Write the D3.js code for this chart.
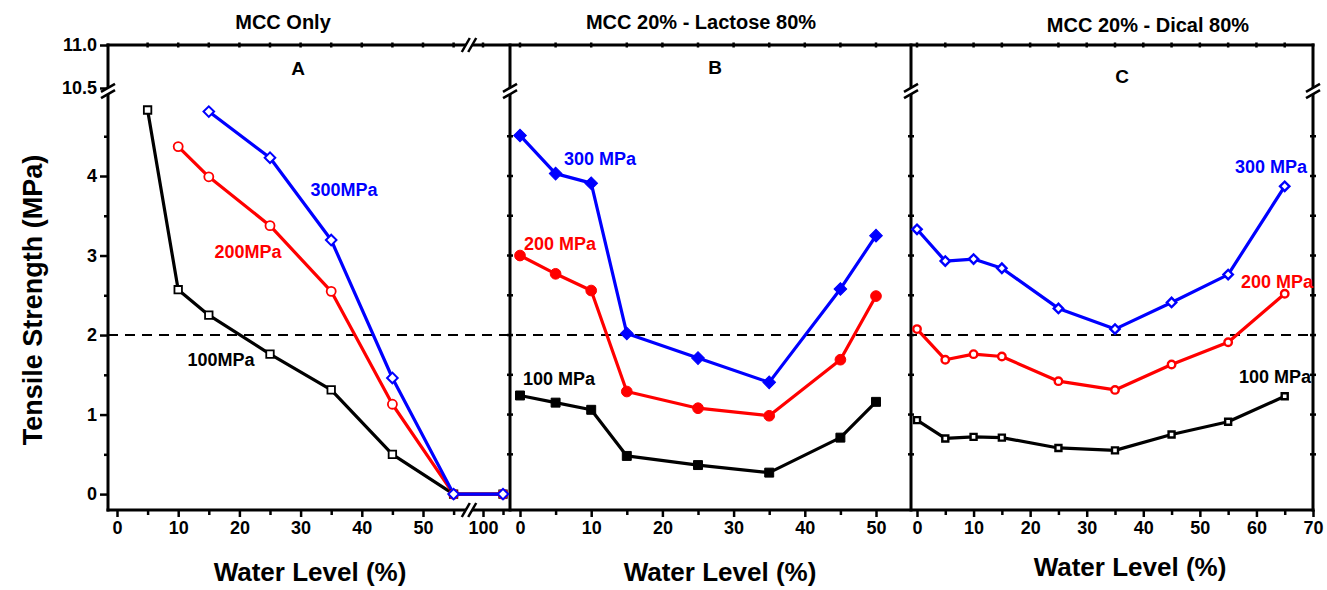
<!DOCTYPE html>
<html>
<head>
<meta charset="utf-8">
<script src="https://cdn.jsdelivr.net/npm/d3@7"></script>
<style>
  body { margin: 0; background: #fff; }
  text { font-family: "Liberation Sans", Arial, sans-serif; font-weight: bold; }
</style>
</head>
<body>
<div id="chart"></div>
<script>
// values
var waterA100 = [5, 10, 15, 25, 35, 45, 55, 105];
var tsA100 = [4.83, 2.57, 2.25, 1.76, 1.31, 0.50, 0, 0];
var waterA200 = [10, 15, 25, 35, 45, 55, 105];
var tsA200 = [4.37, 3.99, 3.375, 2.55, 1.13, 0, 0];
var waterA300 = [15, 25, 35, 45, 55, 105];
var tsA300 = [4.81, 4.23, 3.195, 1.46, 0, 0];

var waterB = [0, 5, 10, 15, 25, 35, 45, 50];
var tsB100 = [1.24, 1.15, 1.06, 0.48, 0.365, 0.27, 0.71, 1.16];
var tsB200 = [3.00, 2.77, 2.56, 1.29, 1.08, 0.985, 1.69, 2.49];
var tsB300 = [4.51, 4.03, 3.91, 2.02, 1.71, 1.405, 2.58, 3.25];

var waterC = [0, 5, 10, 15, 25, 35, 45, 55, 65];
var tsC100 = [0.93, 0.70, 0.72, 0.71, 0.58, 0.55, 0.75, 0.91, 1.23];
var tsC200 = [2.075, 1.69, 1.76, 1.73, 1.42, 1.31, 1.63, 1.91, 2.52];
var tsC300 = [3.33, 2.93, 2.955, 2.84, 2.335, 2.075, 2.41, 2.76, 3.87];

var titles = ["MCC Only", "MCC 20% - Lactose 80%", "MCC 20% - Dical 80%"];
var letters = ["A", "B", "C"];
var yTicksLow = [0, 1, 2, 3, 4];
var yTicksHigh = [10.5, 11.0];
var xTicksA = [0, 10, 20, 30, 40, 50];
var xTicksAHigh = [100];
var xTicksB = [0, 10, 20, 30, 40, 50];
var xTicksC = [0, 10, 20, 30, 40, 50, 60, 70];
var threshold = 2;

var width = 1327, height = 590;
var leftX = 108, divAB = 510, divBC = 911, rightX = 1313, topY = 45, bottomY = 510;

var svg = d3.select('#chart').append('svg')
  .attr('width', width)
  .attr('height', height);

var yLow = d3.scaleLinear().domain([-0.2, 5.05]).range([bottomY, 92.5]);
var yHigh = d3.scaleLinear().domain([10.5, 11]).range([88, topY]);

var xA = d3.scaleLinear().domain([0, 55]).range([117, 453.6]);
var xAHigh = d3.scaleLinear().domain([100, 105]).range([483, 503]);
var xB = d3.scaleLinear().domain([0, 50]).range([520, 876]);
var xC = d3.scaleLinear().domain([0, 70]).range([917, 1313]);

function xAny(v) { return v > 60 ? xAHigh(v) : xA(v); }

// threshold line
svg.append('line')
  .attr('x1', leftX).attr('x2', rightX)
  .attr('y1', yLow(threshold)).attr('y2', yLow(threshold))
  .attr('stroke', '#000').attr('stroke-width', 2)
  .attr('stroke-dasharray', '10,7');

// x axes
function xAxis(scale, ticks, minor) {
  var g = svg.append('g').attr('transform', 'translate(0,' + bottomY + ')');
  g.call(d3.axisBottom(scale).tickValues(minor).tickSize(5).tickFormat('').tickSizeOuter(0));
  g.select('.domain').remove();
  var g2 = svg.append('g').attr('transform', 'translate(0,' + bottomY + ')');
  g2.call(d3.axisBottom(scale).tickValues(ticks).tickSize(7).tickPadding(4)
    .tickFormat(d3.format('d')).tickSizeOuter(0));
  g2.select('.domain').remove();
}
xAxis(xA, xTicksA, [5, 15, 25, 35, 45, 55]);
xAxis(xAHigh, xTicksAHigh, [105]);
xAxis(xB, xTicksB, [5, 15, 25, 35, 45]);
xAxis(xC, xTicksC, [5, 15, 25, 35, 45, 55, 65]);

// left y axis
var gy = svg.append('g').attr('transform', 'translate(' + leftX + ',0)');
gy.call(d3.axisLeft(yLow).tickValues([0.5, 1.5, 2.5, 3.5, 4.5]).tickSize(4).tickFormat(''));
gy.select('.domain').remove();
var gy2 = svg.append('g').attr('transform', 'translate(' + leftX + ',0)');
gy2.call(d3.axisLeft(yLow).tickValues(yTicksLow).tickSize(8).tickPadding(3).tickFormat(d3.format('d')));
gy2.select('.domain').remove();
var gy3 = svg.append('g').attr('transform', 'translate(' + leftX + ',0)');
gy3.call(d3.axisLeft(yHigh).tickValues(yTicksHigh).tickSize(8).tickPadding(3).tickFormat(d3.format('.1f')));
gy3.select('.domain').remove();
svg.selectAll('.tick text').attr('font-size', 18).attr('font-weight', 'bold')
  .attr('font-family', '"Liberation Sans", Arial, sans-serif').attr('fill', '#000');
svg.selectAll('.tick line').attr('stroke-width', 2.5);

// small ticks on dividers, right edge and top border
var halfSteps = [0.5, 1, 1.5, 2, 2.5, 3, 3.5, 4, 4.5];
[divAB, divBC, rightX].forEach(function(x) {
  svg.selectAll(null).data(halfSteps).enter().append('line')
    .attr('x1', x - 3).attr('x2', x + 3)
    .attr('y1', function(d) { return yLow(d); }).attr('y2', function(d) { return yLow(d); })
    .attr('stroke', '#000').attr('stroke-width', 2.5);
});
var topTicks = [];
[5, 10, 15, 20, 25, 30, 35, 40, 45, 50, 55].forEach(function(v) { topTicks.push(xA(v)); });
[0, 5, 10, 15, 20, 25, 30, 35, 40, 45, 50].forEach(function(v) { topTicks.push(xB(v)); });
[0, 5, 10, 15, 20, 25, 30, 35, 40, 45, 50, 55, 60, 65].forEach(function(v) { topTicks.push(xC(v)); });
topTicks.push(xAHigh(100));
svg.selectAll(null).data(topTicks).enter().append('line')
  .attr('x1', function(d) { return d; }).attr('x2', function(d) { return d; })
  .attr('y1', topY - 2.5).attr('y2', topY + 2.5)
  .attr('stroke', '#000').attr('stroke-width', 2.5);

// frame
var frame = svg.append('g').attr('stroke', '#000').attr('stroke-width', 3).attr('fill', 'none');
frame.append('line').attr('x1', leftX - 1.5).attr('x2', rightX + 1.5).attr('y1', topY).attr('y2', topY);
frame.append('line').attr('x1', leftX - 1.5).attr('x2', rightX + 1.5).attr('y1', bottomY).attr('y2', bottomY);
[leftX, divAB, divBC, rightX].forEach(function(x) {
  frame.append('line').attr('x1', x).attr('x2', x).attr('y1', topY - 1.5).attr('y2', bottomY + 1.5);
});

// axis breaks
function vBreak(x, y) {
  svg.append('rect').attr('x', x - 3).attr('y', y - 3).attr('width', 6).attr('height', 6).attr('fill', '#fff');
  [-3.2, 3.2].forEach(function(o) {
    svg.append('line')
      .attr('x1', x - 7).attr('y1', y + o + 4).attr('x2', x + 7).attr('y2', y + o - 4)
      .attr('stroke', '#000').attr('stroke-width', 2.5);
  });
}
function hBreak(x, y) {
  svg.append('rect').attr('x', x - 3).attr('y', y - 3).attr('width', 6).attr('height', 6).attr('fill', '#fff');
  [-3.2, 3.2].forEach(function(o) {
    svg.append('line')
      .attr('x1', x + o - 4).attr('y1', y + 7).attr('x2', x + o + 4).attr('y2', y - 7)
      .attr('stroke', '#000').attr('stroke-width', 2.5);
  });
}
[leftX, divAB, divBC, rightX].forEach(function(x) { vBreak(x, 91); });
hBreak(469, topY);
hBreak(469, bottomY);

// series
var line = function(xs) {
  return d3.line().x(function(d) { return xs(d[0]); }).y(function(d) { return yLow(d[1]); });
};
var squareSym = d3.symbol().type(d3.symbolSquare);
var circleSym = d3.symbol().type(d3.symbolCircle);

var series = [
  {xs: xAny, w: waterA100, v: tsA100, c: '#000', shape: 'square', size: 56, fill: 'open', sw: 1.8},
  {xs: xAny, w: waterA200, v: tsA200, c: '#ff0000', shape: 'circle', size: 64, fill: 'open', sw: 1.8},
  {xs: xAny, w: waterA300, v: tsA300, c: '#0000ff', shape: 'diamond', size: 56, fill: 'open', sw: 2},
  {xs: xB, w: waterB, v: tsB100, c: '#000', shape: 'square', size: 80, fill: 'solid', sw: 1},
  {xs: xB, w: waterB, v: tsB200, c: '#ff0000', shape: 'circle', size: 90, fill: 'solid', sw: 1},
  {xs: xB, w: waterB, v: tsB300, c: '#0000ff', shape: 'diamond', size: 80, fill: 'solid', sw: 1},
  {xs: xC, w: waterC, v: tsC100, c: '#000', shape: 'square', size: 36, fill: 'open', sw: 2.4},
  {xs: xC, w: waterC, v: tsC200, c: '#ff0000', shape: 'circle', size: 44, fill: 'open', sw: 2.4},
  {xs: xC, w: waterC, v: tsC300, c: '#0000ff', shape: 'diamond', size: 44, fill: 'open', sw: 2.4}
];

series.forEach(function(s) {
  var pts = s.w.map(function(x, i) { return [x, s.v[i]]; });
  svg.append('path').datum(pts)
    .attr('d', line(s.xs))
    .attr('fill', 'none').attr('stroke', s.c).attr('stroke-width', 3.2)
    .attr('stroke-linejoin', 'round');
});
series.forEach(function(s) {
  var pts = s.w.map(function(x, i) { return [x, s.v[i]]; });
  svg.selectAll(null).data(pts).enter().append('path')
    .attr('d', s.shape === 'circle' ? circleSym.size(s.size)() : squareSym.size(s.size)())
    .attr('transform', function(d) {
      return 'translate(' + s.xs(d[0]) + ',' + yLow(d[1]) + ')' + (s.shape === 'diamond' ? ' rotate(45)' : '');
    })
    .attr('fill', s.fill === 'solid' ? s.c : '#fff')
    .attr('stroke', s.c).attr('stroke-width', s.sw);
});

// series labels
var seriesLabels = [
  {t: '300MPa', x: 344, y: 196, c: '#0000ff'},
  {t: '200MPa', x: 248, y: 258, c: '#ff0000'},
  {t: '100MPa', x: 221, y: 366, c: '#000'},
  {t: '300 MPa', x: 600, y: 165, c: '#0000ff'},
  {t: '200 MPa', x: 560, y: 250, c: '#ff0000'},
  {t: '100 MPa', x: 559, y: 385, c: '#000'},
  {t: '300 MPa', x: 1271, y: 173, c: '#0000ff'},
  {t: '200 MPa', x: 1277, y: 288, c: '#ff0000'},
  {t: '100 MPa', x: 1275, y: 383, c: '#000'}
];
svg.selectAll('.slabel').data(seriesLabels).enter().append('text')
  .attr('class', 'slabel')
  .attr('x', function(d) { return d.x; }).attr('y', function(d) { return d.y; })
  .attr('text-anchor', 'middle').attr('font-size', 18)
  .attr('fill', function(d) { return d.c; })
  .text(function(d) { return d.t; });

// panel titles and letters
var titleX = [283, 701, 1148], titleY = [29, 29, 32];
var letterX = [298, 715, 1122], letterY = [75, 74, 83];
titles.forEach(function(t, i) {
  svg.append('text').attr('x', titleX[i]).attr('y', titleY[i])
    .attr('text-anchor', 'middle').attr('font-size', 20).text(t);
  svg.append('text').attr('x', letterX[i]).attr('y', letterY[i])
    .attr('text-anchor', 'middle').attr('font-size', 19).text(letters[i]);
});

// axis titles
[310, 720, 1130].forEach(function(x, i) {
  svg.append('text').attr('x', x).attr('y', [581, 581, 576][i])
    .attr('text-anchor', 'middle').attr('font-size', 26).text('Water Level (%)');
});
svg.append('text')
  .attr('transform', 'translate(42,300) rotate(-90)')
  .attr('text-anchor', 'middle').attr('font-size', 27)
  .text('Tensile Strength (MPa)');
</script>
</body>
</html>
